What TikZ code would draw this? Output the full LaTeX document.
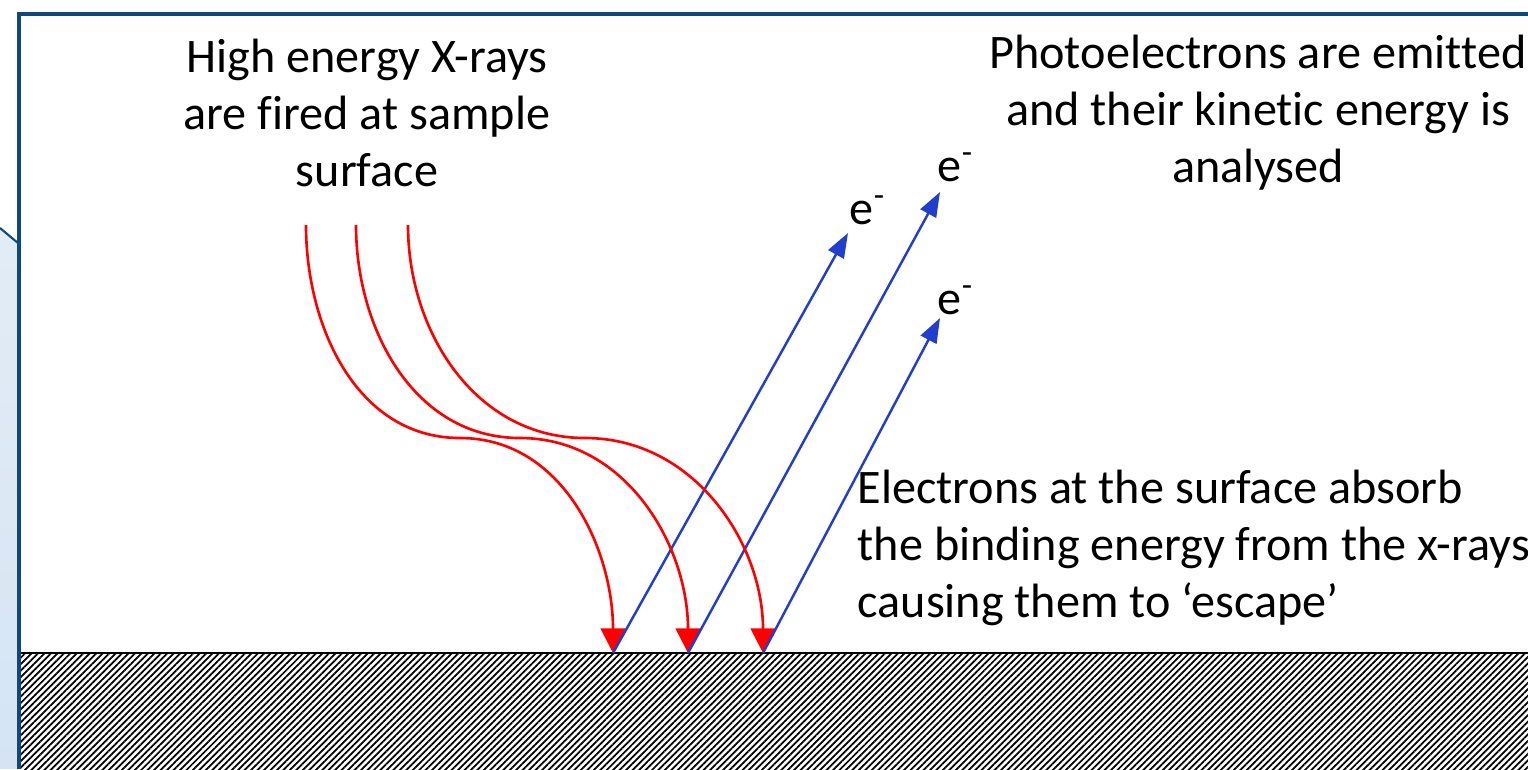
\documentclass[tikz,border=0pt]{standalone}
\usepackage{fontspec}
\setmainfont[RawFeature={-liga;-clig;-calt;-dlig}]{Carlito}
\usepackage{tikz}
\usetikzlibrary{arrows.meta,positioning,patterns.meta}
\definecolor{framebl}{RGB}{16,72,124}
\definecolor{stripbl}{RGB}{214,228,242}
\definecolor{xrayred}{RGB}{255,0,0}
\definecolor{elecblue}{RGB}{33,62,204}

\begin{document}
\begin{tikzpicture}[x=0.01cm,y=-0.01cm,
    txt/.style={font=\fontsize{13.7}{16.2}\selectfont,inner sep=0pt},
    xray/.style={xrayred,line width=0.75pt,-{Triangle[width=7pt,length=7pt]}},
    eray/.style={elecblue,line width=0.7pt,-{Triangle[width=5pt,length=7pt]}}]
  \useasboundingbox (0,0) rectangle (1528,769);
  % side strip and frame
  \shade[top color=stripbl!70,bottom color=stripbl] (0,228) -- (18,243) -- (18,769) -- (0,769) -- cycle;
  \draw[framebl,line width=0.6pt] (0,228) -- (18,243);
  \draw[framebl,line width=1.1pt] (19,769) -- (19,14) -- (1528,14);
  % sample
  \fill[pattern={Lines[angle=45,distance=1.3pt,line width=0.5pt]}] (21,653) rectangle (1528,769);
  \draw[black,line width=0.6pt] (21,653) -- (1528,653);
  % texts
  \node[txt,align=center] (xtext) at (367,113) {High energy X-rays\\are f\kern0pt ired at sample\\surface};
  \node[txt,align=center] (ptext) at (1258,113) {Photoelectrons are emit\kern0pt ted\\and their kinet\kern0pt ic energy is\\analysed};
  \node[txt,align=left,anchor=west] (etext) at (857,548) {Electrons at the surface absorb\\the binding energy from the x-rays\\causing them to `escape'};
  \node[txt] (e1) at (868,210) {e\textsuperscript{-}};
  \node[txt] (e2) at (956,167) {e\textsuperscript{-}};
  \node[txt] (e3) at (956,300) {e\textsuperscript{-}};
  \coordinate (tip1) at (848,233);
  \coordinate (tip2) at (940,192);
  \coordinate (tip3) at (940,318);
  % x-rays in, electrons out
  \foreach \i/\xs/\xm/\xh in {1/306/460/613,2/356/520/688,3/408/585/763} {
    \coordinate (xs\i) at (\xs,225);
    \coordinate (bend\i) at (\xm,438);
    \coordinate (hit\i) at (\xh,653);
    \draw[xray] (xs\i) to[out=-90,in=180] (bend\i) to[out=0,in=90] (hit\i);
    \draw[eray] (hit\i) -- (tip\i);
  }
\end{tikzpicture}
\end{document}
